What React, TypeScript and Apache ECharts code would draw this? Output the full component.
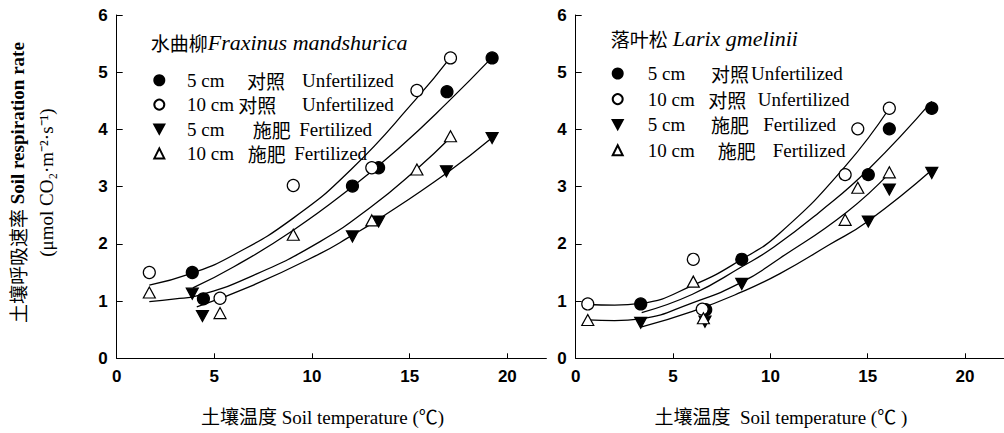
import React, { useEffect, useRef } from 'react';
import * as echarts from 'echarts';

type Pt = [number, number];

// ---------- tick values ----------
const xTickValues = [0, 5, 10, 15, 20];

// ---------- titles ----------
const leftTitleCn = '水曲柳';
const leftTitleLatin = 'Fraxinus mandshurica';
const rightTitleCn = '落叶松';
const rightTitleLatin = 'Larix gmelinii';
const xAxisTitleLeft = '土壤温度 Soil temperature (℃)';
const xAxisTitleRight = '土壤温度  Soil temperature (℃ )';
const yAxisTitleCn = '土壤呼吸速率';
const yAxisTitleEn = 'Soil respiration rate';
const yAxisUnit = '(μmol CO₂·m⁻²·s⁻¹)';

// ---------- legend rows: depth, treatment (cn), treatment (en) ----------
const depthLabels = ['5 cm', '10 cm', '5 cm', '10 cm'];
const treatCn = ['对照', '对照', '施肥', '施肥'];
const treatEn = ['Unfertilized', 'Unfertilized', 'Fertilized', 'Fertilized'];

// ---------- Left panel: 水曲柳 Fraxinus mandshurica (observed) ----------
const fm5Unfert: Pt[] = [[3.87, 1.5], [4.44, 1.04], [12.07, 3.01], [13.41, 3.33], [16.91, 4.66], [19.22, 5.25]];
const fm10Unfert: Pt[] = [[1.67, 1.5], [5.29, 1.05], [9.04, 3.02], [13.06, 3.33], [15.37, 4.68], [17.09, 5.25]];
const fm5Fert: Pt[] = [[3.87, 1.13], [4.39, 0.74], [12.07, 2.13], [13.41, 2.39], [16.88, 3.27], [19.22, 3.85]];
const fm10Fert: Pt[] = [[1.67, 1.15], [5.29, 0.79], [9.04, 2.16], [13.06, 2.41], [15.37, 3.3], [17.09, 3.88]];

// fitted curves
const fm10UnfertFit: Pt[] = [[1.67, 1.28], [3.87, 1.49], [6, 1.81], [9.04, 2.45], [12, 3.3], [15.3, 4.52], [17.09, 5.26]];
const fm5UnfertFit: Pt[] = [[3.9, 1.23], [6, 1.6], [9, 2.23], [12.07, 3.0], [14.5, 3.69], [16.9, 4.46], [19.22, 5.26]];
const fm10FertFit: Pt[] = [[1.67, 0.99], [3, 1.04], [4.1, 1.09], [7, 1.45], [10.41, 2.04], [13, 2.64], [15.37, 3.31], [17.09, 3.86]];
const fm5FertFit: Pt[] = [[4.1, 0.9], [7, 1.28], [10.41, 1.83], [11.96, 2.13], [13.31, 2.41], [16.9, 3.24], [19.2, 3.85]];

// ---------- Right panel: 落叶松 Larix gmelinii (observed) ----------
const lg5Unfert: Pt[] = [[3.34, 0.95], [6.68, 0.85], [8.53, 1.73], [15.03, 3.21], [16.11, 4.01], [18.29, 4.37]];
const lg10Unfert: Pt[] = [[0.62, 0.95], [6.04, 1.73], [6.5, 0.86], [13.84, 3.21], [14.49, 4.01], [16.11, 4.37]];
const lg5Fert: Pt[] = [[3.34, 0.62], [6.64, 0.64], [8.53, 1.3], [15.03, 2.39], [16.11, 2.95], [18.29, 3.24]];
const lg10Fert: Pt[] = [[0.62, 0.67], [6.04, 1.34], [6.56, 0.7], [13.84, 2.42], [14.49, 2.98], [16.11, 3.25]];

const lg10UnfertFit: Pt[] = [[0.62, 0.94], [2, 0.93], [3.34, 0.96], [6.04, 1.28], [8.53, 1.73], [10.49, 2.19], [13.83, 3.35], [16.11, 4.37]];
const lg5UnfertFit: Pt[] = [[3.39, 0.8], [6, 1.12], [8.53, 1.6], [10.2, 1.95], [12.5, 2.55], [15.03, 3.3], [18.29, 4.49]];
const lg10FertFit: Pt[] = [[0.62, 0.67], [2, 0.66], [3.34, 0.69], [6, 0.97], [8.53, 1.33], [10.49, 1.75], [13.9, 2.55], [16.15, 3.25]];
const lg5FertFit: Pt[] = [[3.39, 0.55], [6, 0.82], [8.53, 1.16], [10.49, 1.48], [13, 1.98], [15.03, 2.4], [18.29, 3.29]];

// ---------- styling / layout ----------
const SERIF = '"Liberation Serif", "Times New Roman", "Noto Sans CJK SC", serif';
const SANS = '"Liberation Sans", Arial, Helvetica, sans-serif';
const CJK = '"Noto Sans CJK SC", "Liberation Serif", serif';

const grids = [
  { left: 116.7, top: 15, width: 429.7, height: 343.3 },
  { left: 575.7, top: 15, width: 428.3, height: 343.3 },
];

// legend column widths (pad before depth, depth col, treatment col) per row
const legendLayouts = [
  { left: 153.3, top: 70.7, gap: 5.4, pad: 17.7, a: [60, 51.3, 65.7, 60.7], b: [55, 63.7, 46.6, 46.6] },
  { left: 611.7, top: 64, gap: 6.6, pad: 20, a: [63.3, 60.6, 63.3, 70], b: [40, 49.4, 52.3, 55] },
];

const DOWN_TRIANGLE = 'path://M0,0L12,0L6,11Z';

const symbolDefs = [
  { symbol: 'circle', size: 12, rotate: 0, fill: '#000', legendIcon: 'circle' },
  { symbol: 'circle', size: 12, rotate: 0, fill: '#fff', legendIcon: 'circle' },
  { symbol: 'triangle', size: [12, 11], rotate: 180, fill: '#000', legendIcon: DOWN_TRIANGLE },
  { symbol: 'triangle', size: [12, 11], rotate: 0, fill: '#fff', legendIcon: 'triangle' },
];

function buildOption() {
  const panels = [
    { prefix: leftTitleCn, obs: [fm5Unfert, fm10Unfert, fm5Fert, fm10Fert], fits: [fm5UnfertFit, fm10UnfertFit, fm5FertFit, fm10FertFit] },
    { prefix: rightTitleCn, obs: [lg5Unfert, lg10Unfert, lg5Fert, lg10Fert], fits: [lg5UnfertFit, lg10UnfertFit, lg5FertFit, lg10FertFit] },
  ];

  const series: any[] = [];
  const legends: any[] = [];

  panels.forEach((p, gi) => {
    p.fits.forEach((fit, k) => {
      series.push({
        type: 'line',
        name: `${p.prefix} fit ${k}`,
        xAxisIndex: gi,
        yAxisIndex: gi,
        data: fit,
        showSymbol: false,
        symbol: 'none',
        smooth: 0.5,
        silent: true,
        lineStyle: { color: '#000', width: 1.3 },
        z: 2,
      });
    });
    const names: string[] = [];
    const legendData: any[] = [];
    p.obs.forEach((obs, k) => {
      const def = symbolDefs[k];
      const name = `${p.prefix} ${depthLabels[k]} ${treatCn[k]} ${treatEn[k]}`;
      names.push(name);
      legendData.push({ name, icon: def.legendIcon });
      series.push({
        type: 'scatter',
        name,
        xAxisIndex: gi,
        yAxisIndex: gi,
        data: obs,
        symbol: def.symbol,
        symbolSize: def.size,
        symbolRotate: def.rotate,
        itemStyle: { color: def.fill, borderColor: '#000', borderWidth: 1.2, opacity: 1 },
        z: 3 + k,
      });
    });

    const L = legendLayouts[gi];
    const rich: any = {
      p: { width: L.pad, fontSize: 19, fontFamily: SERIF, lineHeight: 20 },
      c: { fontSize: 19, fontFamily: SERIF, color: '#000', lineHeight: 20 },
    };
    for (let k = 0; k < 4; k++) {
      rich['a' + k] = { width: L.a[k], fontSize: 19, fontFamily: SERIF, color: '#000', lineHeight: 20 };
      rich['b' + k] = { width: L.b[k], fontSize: 19, fontFamily: CJK, color: '#000', lineHeight: 20 };
    }
    legends.push({
      orient: 'vertical',
      left: L.left,
      top: L.top,
      padding: 0,
      itemGap: L.gap,
      itemWidth: 10,
      itemHeight: 10,
      selectedMode: false,
      data: legendData,
      formatter: (n: string) => {
        const k = names.indexOf(n);
        return `{p| }{a${k}|${depthLabels[k]}}{b${k}|${treatCn[k]}}{c|${treatEn[k]}}`;
      },
      textStyle: { color: '#000', fontSize: 19, fontFamily: SERIF, rich },
    });
  });

  const titleRich = {
    cn: { fontSize: 19, fontFamily: CJK, fontWeight: 'normal', color: '#000', lineHeight: 24 },
    la: { fontSize: 22, fontFamily: SERIF, fontStyle: 'italic', fontWeight: 'normal', color: '#000', lineHeight: 24 },
  };

  const xAxisBase = (gi: number, name: string) => ({
    type: 'value',
    gridIndex: gi,
    min: 0,
    max: 22,
    interval: 5,
    axisLine: { show: true, onZero: false, lineStyle: { color: '#000', width: 1 } },
    axisTick: { show: true, inside: true, length: 5, customValues: xTickValues, lineStyle: { color: '#000', width: 1 } },
    axisLabel: {
      color: '#000', fontSize: 17, fontWeight: 'bold', fontFamily: SANS, margin: 10,
      customValues: xTickValues,
      formatter: (v: number) => (v % 5 === 0 ? String(v) : ''),
    },
    splitLine: { show: false },
    name,
    nameLocation: 'middle',
    nameGap: 50,
    nameTextStyle: { color: '#000', fontSize: 19, fontFamily: SERIF, padding: [0, 18, 0, 0] },
  });

  const yAxisBase = (gi: number) => ({
    type: 'value',
    gridIndex: gi,
    min: 0,
    max: 6,
    interval: 1,
    axisLine: { show: true, onZero: false, lineStyle: { color: '#000', width: 1 } },
    axisTick: { show: true, inside: true, length: 6, lineStyle: { color: '#000', width: 1 } },
    axisLabel: { color: '#000', fontSize: 17, fontWeight: 'bold', fontFamily: SANS, margin: 9 },
    splitLine: { show: false },
  });

  return {
    animation: false,
    backgroundColor: '#fff',
    title: [
      {
        text: `{cn|${leftTitleCn}}{la|${leftTitleLatin}}`,
        left: 150.7,
        top: 30.7,
        padding: 0,
        textStyle: { fontWeight: 'normal', rich: titleRich },
      },
      {
        text: `{cn|${rightTitleCn}} {la|${rightTitleLatin}}`,
        left: 610.7,
        top: 26.3,
        padding: 0,
        textStyle: { fontSize: 18, fontWeight: 'normal', rich: titleRich },
      },
    ],
    legend: legends,
    grid: grids.map((g) => ({ ...g, containLabel: false })),
    xAxis: [xAxisBase(0, xAxisTitleLeft), xAxisBase(1, xAxisTitleRight)],
    yAxis: [
      {
        ...yAxisBase(0),
        name: `{cn|${yAxisTitleCn}} {en|${yAxisTitleEn}}\n${yAxisUnit}`,
        nameLocation: 'middle',
        nameRotate: 90,
        nameGap: 56,
        nameTextStyle: {
          color: '#000',
          fontSize: 19,
          fontFamily: SERIF,
          lineHeight: 29,
          padding: [0, 0, 0, 8],
          rich: {
            cn: { fontSize: 19, fontFamily: CJK, fontWeight: 'normal', color: '#000', lineHeight: 29 },
            en: { fontSize: 19, fontFamily: SERIF, fontWeight: 'bold', color: '#000', lineHeight: 29 },
          },
        },
      },
      yAxisBase(1),
    ],
    series,
  };
}

export default function App() {
  const ref = useRef<HTMLDivElement>(null);
  useEffect(() => {
    if (!ref.current) return;
    const chart = echarts.init(ref.current, null, { renderer: 'svg' });
    chart.setOption(buildOption() as any);
    return () => chart.dispose();
  }, []);
  return (
    <div
      ref={ref}
      style={{ position: 'fixed', left: 0, top: 0, width: 1004, height: 433, background: '#fff' }}
    />
  );
}
